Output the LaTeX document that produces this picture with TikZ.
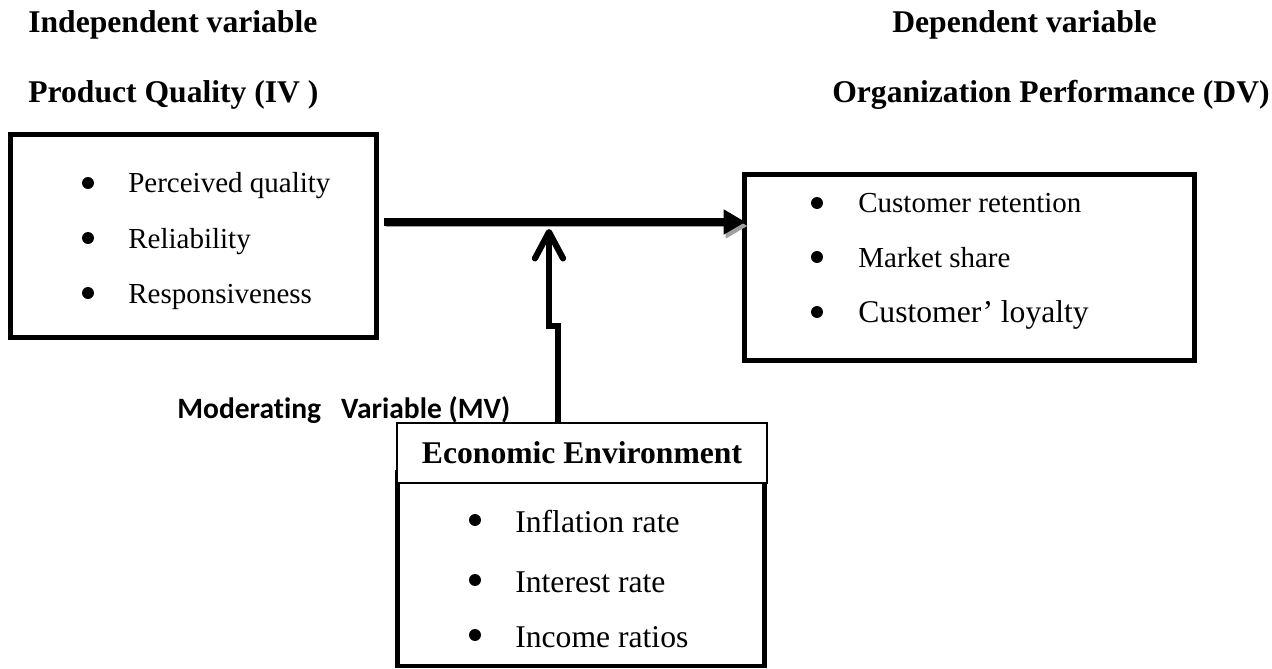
\documentclass[tikz,border=0pt]{standalone}
\usepackage{fontspec}
\setmainfont{Liberation Serif}
\newfontfamily\mvfont[Ligatures=NoCommon]{Carlito}
\usepackage{xcolor}
\usetikzlibrary{positioning, arrows.meta}
\definecolor{shadowgray}{HTML}{A0A0A0}

\tikzset{
  heading/.style={font=\bfseries\fontsize{18}{22}\selectfont, inner sep=0pt, anchor=base west},
  item/.style={font=\fontsize{16.5}{20}\selectfont, inner sep=0pt, anchor=base west},
  bigitem/.style={item, font=\fontsize{18}{22}\selectfont},
  dot/.style={circle, fill=black, inner sep=0pt, minimum size=6.8pt},
  varbox/.style={draw, line width=2.8pt, inner sep=0pt},
  headbox/.style={draw, fill=white, line width=0.8pt, font=\bfseries\fontsize{18}{22}\selectfont},
  mvlabel/.style={font=\mvfont\bfseries\fontsize{16.8}{20}\selectfont, inner sep=0pt, anchor=base west},
  mainarrow/.style={line width=4.8pt, -{Triangle[length=12.5pt, width=13.5pt]},
    preaction={draw=shadowgray, transform canvas={shift={(2,4)}}}},
  modarrow/.style={line width=3.5pt, -{Straight Barb[length=15pt, width=16pt, round]}}
}

\begin{document}
\begin{tikzpicture}[x=0.02cm, y=-0.02cm]
  \useasboundingbox (0,0) rectangle (1272,669);

  % headings
  \node[heading] (ivtitle) at (28,33) {Independent variable};
  \node[heading] (ivname) at (28,103) {Product Quality (IV )};
  \node[heading] (dvtitle) at (892,33) {Dependent variable};
  \node[heading, anchor=base east] (dvname) at (1270,103) {Organization Performance (DV)};

  % product quality
  \node[varbox, minimum width=7.32cm, minimum height=4.06cm] (iv) at (193.5,236) {};
  \foreach \ypos/\lab [count=\i] in {193/Perceived quality, 248/Reliability, 303/Responsiveness}{
    \node[dot] (ivdot\i) at (88,\ypos-10) {};
    \node[item] (ivitem\i) at (128,\ypos) {\lab};
  }

  % organization performance
  \node[varbox, minimum width=9.0cm, minimum height=3.72cm] (dv) at (969.5,267.5) {};
  \foreach \ypos/\lab [count=\i] in {213/Customer retention, 267/Market share}{
    \node[dot] (dvdot\i) at (817,\ypos-10) {};
    \node[item] (dvitem\i) at (858,\ypos) {\lab};
  }
  \node[dot] (dvdot3) at (817,312) {};
  \node[bigitem] (dvitem3) at (858,322) {Customer’ loyalty};

  % economic environment
  \node[varbox, line width=2.6pt, minimum width=7.35cm, minimum height=3.88cm] (mv) at (581,569) {};
  \node[headbox, minimum width=7.4cm, minimum height=1.2cm] (econ) at (582,453) {Economic Environment};
  \foreach \ypos/\lab [count=\i] in {532/Inflation rate, 592/Interest rate, 647/Income ratios}{
    \node[dot] (mvdot\i) at (475,\ypos-12) {};
    \node[bigitem] (mvitem\i) at (515,\ypos) {\lab};
  }
  \node[mvlabel] (mvname) at (177,418) {Moderating\ \ \ Variable (MV)};

  % connectors
  \coordinate (mid) at (549,222);
  \coordinate (jog) at (558,326);
  \coordinate (modtip) at (549,229);
  \draw[mainarrow] ([xshift=3pt]iv.east |- mid) -- ([xshift=2pt]dv.west |- mid);
  \draw[modarrow] (econ.north -| jog) -- (jog) -- (jog -| mid) -- (modtip);
\end{tikzpicture}
\end{document}
